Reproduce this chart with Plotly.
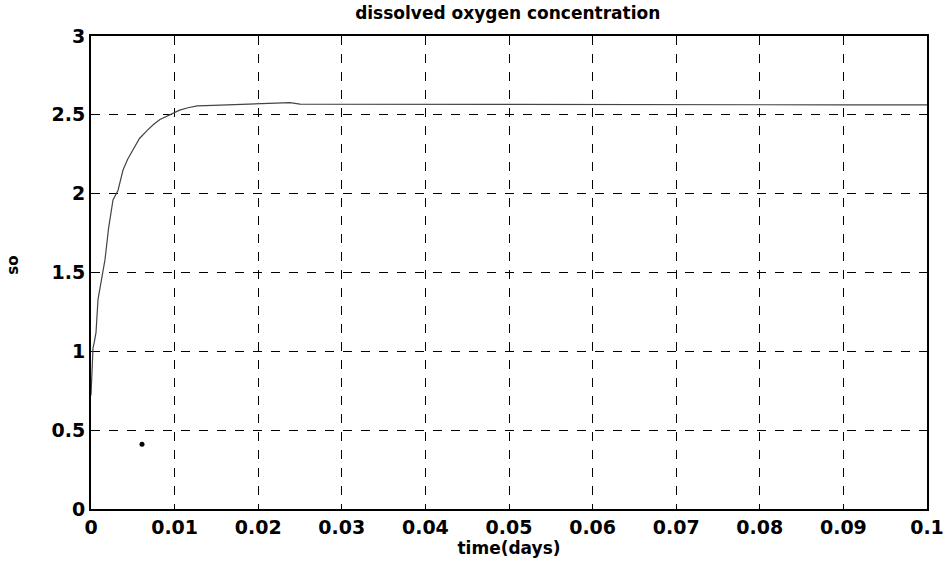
import plotly.graph_objects as go

# data
time_days = [0.0, 0.0001, 0.00024, 0.0004, 0.0006, 0.00084, 0.00108, 0.0014, 0.00167, 0.0021,
             0.00263, 0.00323, 0.00383, 0.0044, 0.00502, 0.0058, 0.0067, 0.0075, 0.00825, 0.009,
             0.0097, 0.0106, 0.0116, 0.0127, 0.0146, 0.017, 0.02, 0.0226, 0.0238, 0.025,
             0.03, 0.0346, 0.04, 0.05, 0.06, 0.07, 0.08, 0.09, 0.1]
so = [0.72, 0.88, 1.02, 1.06, 1.12, 1.33, 1.40, 1.50, 1.58, 1.78,
      1.96, 2.02, 2.15, 2.22, 2.28, 2.35, 2.40, 2.44, 2.47, 2.49,
      2.51, 2.53, 2.545, 2.557, 2.56, 2.565, 2.568, 2.574, 2.578, 2.568,
      2.568, 2.568, 2.567, 2.566, 2.565, 2.565, 2.564, 2.563, 2.563]
stray_t = [0.0061]
stray_v = [0.41]

x_ticks = [0, 0.01, 0.02, 0.03, 0.04, 0.05, 0.06, 0.07, 0.08, 0.09, 0.1]
x_labels = ["0", "0.01", "0.02", "0.03", "0.04", "0.05", "0.06", "0.07", "0.08", "0.09", "0.1"]
y_ticks = [0, 0.5, 1, 1.5, 2, 2.5, 3]
y_labels = ["0", "0.5", "1", "1.5", "2", "2.5", "3"]

fig = go.Figure()
fig.add_trace(go.Scatter(x=time_days, y=so, mode="lines",
                         line=dict(color="#444444", width=1.2), showlegend=False))
fig.add_trace(go.Scatter(x=stray_t, y=stray_v, mode="markers",
                         marker=dict(color="black", size=5), showlegend=False))

font = dict(family="DejaVu Sans, Liberation Sans, sans-serif", color="black", weight="bold")
fig.update_layout(
    width=949, height=562,
    margin=dict(l=91, r=22, t=36, b=53, autoexpand=False),
    paper_bgcolor="white", plot_bgcolor="white",
    title=dict(text="dissolved oxygen concentration", x=0.535, xanchor="center",
               y=0.976, yanchor="middle", font=dict(size=17, **font)),
    xaxis=dict(range=[0, 0.1], tickvals=x_ticks, ticktext=x_labels,
               showgrid=True, gridcolor="black", griddash="dash", gridwidth=1,
               showline=True, linecolor="black", linewidth=2, mirror=True,
               ticks="", zeroline=False, automargin=False,
               tickfont=dict(size=19, **font),
               title=dict(text="time(days)", font=dict(size=17, **font), standoff=0)),
    yaxis=dict(range=[0, 3], tickvals=y_ticks, ticktext=y_labels,
               showgrid=True, gridcolor="black", griddash="dash", gridwidth=1,
               showline=True, linecolor="black", linewidth=2, mirror=True,
               ticks="", zeroline=False, automargin=False,
               tickfont=dict(size=19, **font)),
    annotations=[dict(text="so", xref="paper", yref="paper", x=-0.093, y=0.515,
                      textangle=-90, showarrow=False, xanchor="center", yanchor="middle",
                      font=dict(size=15, **font))],
)
fig.write_html("out.html")
